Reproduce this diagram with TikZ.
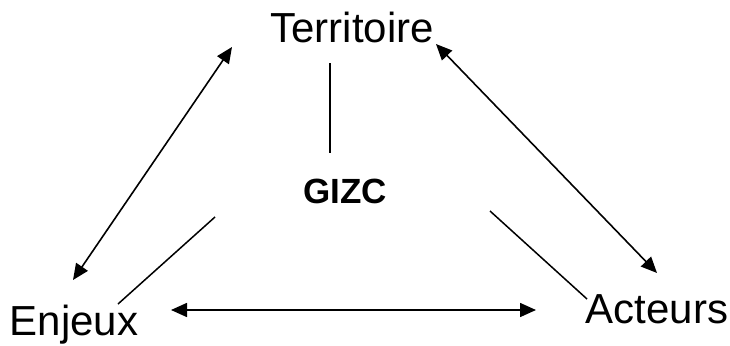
\documentclass[tikz,border=0pt]{standalone}
\usepackage{fontspec}
\setmainfont{Liberation Sans}
\usetikzlibrary{arrows.meta}
\begin{document}
\begin{tikzpicture}[x=1pt,y=-1pt,
  label/.style={inner sep=0pt,font=\fontsize{42}{42}\selectfont,anchor=base},
  core/.style={inner sep=0pt,font=\fontsize{35}{35}\selectfont\bfseries,anchor=base},
  link/.style={line width=1.6pt,{Triangle[length=16pt,width=14pt]}-{Triangle[length=16pt,width=14pt]}},
  tie/.style={line width=1.5pt}]
\useasboundingbox (0,0) rectangle (730,345);
% labels
\node[label] (ter) at (352,42) {Territoire};
\node[label] (enj) at (74,335) {Enjeux};
\node[label] (act) at (657,323) {Acteurs};
\node[core] (gizc) at (345,203) {GIZC};
% arrow ends
\coordinate (tl) at (232,47);
\coordinate (el) at (73,280);
\coordinate (tr) at (436,44);
\coordinate (ar) at (657,273);
\coordinate (eb) at (171,310);
\coordinate (ab) at (536,310);
% free line ends
\coordinate (v1) at (330,63);
\coordinate (v2) at (330,153);
\coordinate (l1) at (215,217);
\coordinate (l2) at (118,304);
\coordinate (r1) at (490,211);
\coordinate (r2) at (587,299);
% double arrows between the three poles
\draw[link] (el) -- (tl);
\draw[link] (tr) -- (ar);
\draw[link] (eb) -- (ab);
% ties towards the centre
\draw[tie] (v1) -- (v2);
\draw[tie] (l1) -- (l2);
\draw[tie] (r1) -- (r2);
\end{tikzpicture}
\end{document}
